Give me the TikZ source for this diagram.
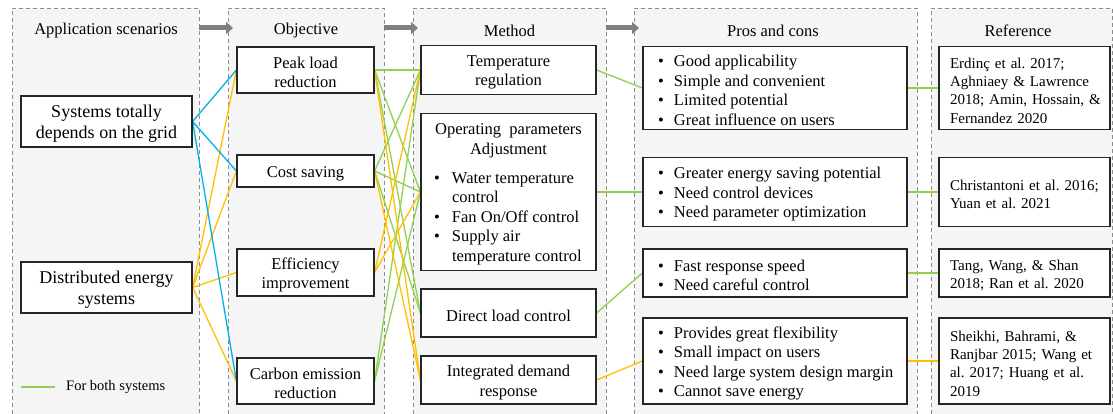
\documentclass[tikz,border=0pt]{standalone}
\usepackage{fontspec}
\setmainfont{Liberation Serif}
\usetikzlibrary{arrows.meta}

\definecolor{panelfill}{RGB}{245,245,245}
\definecolor{paneledge}{RGB}{140,140,140}
\definecolor{arrowgray}{RGB}{128,128,128}
\definecolor{lnblue}{RGB}{0,176,240}
\definecolor{lnorange}{RGB}{255,192,0}
\definecolor{lngreen}{RGB}{146,208,80}
\definecolor{boxedge}{RGB}{38,38,38}

\pgfdeclarelayer{panels}
\pgfdeclarelayer{links}
\pgfsetlayers{panels,links,main}

\frenchspacing

% one bullet line: bullet in a fixed-width slot, then the text
\newcommand\bulline[2]{\noindent\makebox[#1][l]{\textbullet}\mbox{#2}\par}
% continuation line of a bullet
\newcommand\contline[2]{\noindent\hspace*{#1}\mbox{#2}\par}

\begin{document}
\begin{tikzpicture}[x=1pt,y=-1pt,
  paneledge/.style={draw=paneledge,line width=0.9pt,dash pattern=on 4pt off 3pt},
  flow/.style={draw=arrowgray,line width=5pt,-{Triangle[length=7pt,width=12pt]}},
  head/.style={font=\fontsize{16.5}{19.5}\selectfont,inner sep=0pt},
  frame/.style={draw=boxedge,fill=white,line width=1.2pt,inner sep=0pt},
  txt/.style={inner sep=0pt,align=center,font=\fontsize{16.5}{19.5}\selectfont},
  apptxt/.style={txt,font=\fontsize{18}{21}\selectfont},
  listtxt/.style={txt,align=none,execute at begin node={\parskip=0pt\parindent=0pt}},
  reftxt/.style={txt,align=left,text width=149pt,font=\fontsize{15}{18.3}\selectfont},
  gline/.style={draw=lngreen,line width=1.3pt},
  oline/.style={draw=lnorange,line width=1.3pt},
  bluline/.style={draw=lnblue,line width=1.3pt},
]
\useasboundingbox (0,0) rectangle (1113,414);

% ---- column panels ----
\begin{pgfonlayer}{panels}
\fill[panelfill] (12,8) rectangle (199,414);
\fill[panelfill] (228,8) rectangle (384,414);
\fill[panelfill] (413,8) rectangle (606,414);
\fill[panelfill] (634,8) rectangle (917,414);
\fill[panelfill] (931,8) rectangle (1113,414);
\draw[paneledge] (12,414) -- (12,8) -- (199,8) -- (199,414);
\draw[paneledge] (228,414) -- (228,8) -- (384,8) -- (384,414);
\draw[paneledge] (413,414) -- (413,8) -- (606,8) -- (606,414);
\draw[paneledge] (634,414) -- (634,8) -- (917,8) -- (917,414);
\draw[paneledge] (931,414) -- (931,8) -- (1112,8) -- (1112,414);
\end{pgfonlayer}

% ---- column headers and flow arrows ----
\node[head] (h1) at (106,30.5) {Application scenarios};
\node[head] (h2) at (306,30.5) {Objective};
\node[head] (h3) at (509.5,30.5) {Method};
\node[head] (h4) at (773,30.5) {Pros and cons};
\node[head] (h5) at (1018,30.5) {Reference};

\coordinate (a1s) at (199,28); \coordinate (a1e) at (233,28);
\coordinate (a2s) at (384,28); \coordinate (a2e) at (418,28);
\coordinate (a3s) at (606,28); \coordinate (a3e) at (639,28);
\draw[flow] (a1s) -- (a1e);
\draw[flow] (a2s) -- (a2e);
\draw[flow] (a3s) -- (a3e);

% ---- application scenarios ----
\node[frame,minimum width=171pt,minimum height=51pt] (sys) at (106.5,121.5) {};
\node[apptxt] (sysT) at ([yshift=-2.5pt]sys.center) {Systems totally\\depends on the grid};
\node[frame,minimum width=171pt,minimum height=51pt] (dist) at (106.5,287.5) {};
\node[apptxt] (distT) at ([yshift=-2.5pt]dist.center) {Distributed energy\\systems};

% ---- objectives ----
\node[frame,minimum width=137pt,minimum height=46pt] (peak) at (305.5,70) {};
\node[txt] (peakT) at ([yshift=-2.5pt]peak.center) {Peak load\\reduction};
\node[frame,minimum width=137pt,minimum height=32pt] (cost) at (305.5,171) {};
\node[txt] (costT) at ([yshift=-2.5pt]cost.center) {Cost saving};
\node[frame,minimum width=137pt,minimum height=47pt] (eff) at (305.5,272.5) {};
\node[txt] (effT) at ([yshift=-2.5pt]eff.center) {Efficiency\\improvement};
\node[frame,minimum width=137pt,minimum height=46pt] (carb) at (305.5,381) {};
\node[txt] (carbT) at ([yshift=-2.5pt]carb.center) {Carbon emission\\reduction};

% ---- methods ----
\node[frame,minimum width=175pt,minimum height=49pt] (temp) at (508.5,70) {};
\node[txt] (tempT) at ([yshift=-2.5pt]temp.center) {Temperature\\regulation};
\node[frame,minimum width=175pt,minimum height=157pt] (op) at (508.5,192) {};
\node[listtxt,text width=149pt] (opT) at ([yshift=-2.5pt]op.center)
  {{\centering Operating\ \ parameters\\Adjustment\par}\vspace{9.5pt}%
   \bulline{18pt}{Water temperature}
   \contline{18pt}{control}
   \bulline{18pt}{Fan On/Off control}
   \bulline{18pt}{Supply air}
   \contline{18pt}{temperature control}};
\node[frame,minimum width=175pt,minimum height=48pt] (direct) at (508.5,313) {};
\node[txt] (directT) at ([yshift=-2.5pt]direct.center) {Direct load control};
\node[frame,minimum width=175pt,minimum height=48pt] (idr) at (508.5,380) {};
\node[txt] (idrT) at ([yshift=-2.5pt]idr.center) {Integrated demand\\response};

% ---- pros and cons ----
\node[frame,minimum width=264pt,minimum height=83pt] (p1) at (775,88) {};
\node[listtxt,text width=234pt] (p1T) at ([yshift=-2.5pt]p1.center)
  {\bulline{16pt}{Good applicability}
   \bulline{16pt}{Simple and convenient}
   \bulline{16pt}{Limited potential}
   \bulline{16pt}{Great influence on users}};
\node[frame,minimum width=264pt,minimum height=69pt] (p2) at (775,192) {};
\node[listtxt,text width=234pt] (p2T) at ([yshift=-2.5pt]p2.center)
  {\bulline{16pt}{Greater energy saving potential}
   \bulline{16pt}{Need control devices}
   \bulline{16pt}{Need parameter optimization}};
\node[frame,minimum width=264pt,minimum height=48pt] (p3) at (775,273) {};
\node[listtxt,text width=234pt] (p3T) at ([yshift=-2.5pt]p3.center)
  {\bulline{16pt}{Fast response speed}
   \bulline{16pt}{Need careful control}};
\node[frame,minimum width=264pt,minimum height=86pt] (p4) at (775,361) {};
\node[listtxt,text width=234pt] (p4T) at ([yshift=-2.5pt]p4.center)
  {\bulline{16pt}{Provides great flexibility}
   \bulline{16pt}{Small impact on users}
   \bulline{16pt}{Need large system design margin}
   \bulline{16pt}{Cannot save energy}};

% ---- references ----
\node[frame,minimum width=171pt,minimum height=83pt] (r1) at (1024.5,88) {};
\node[reftxt] (r1T) at ([yshift=-2.5pt]r1.center)
  {\mbox{Erdinç et al. 2017;}\\\mbox{Aghniaey \& Lawrence}\\\mbox{2018; Amin, Hossain, \&}\\\mbox{Fernandez 2020}};
\node[frame,minimum width=171pt,minimum height=69pt] (r2) at (1024.5,192) {};
\node[reftxt] (r2T) at ([yshift=-2.5pt]r2.center)
  {\mbox{Christantoni et al. 2016;}\\\mbox{Yuan et al. 2021}};
\node[frame,minimum width=171pt,minimum height=48pt] (r3) at (1024.5,273) {};
\node[reftxt] (r3T) at ([yshift=-2.5pt]r3.center)
  {\mbox{Tang, Wang, \& Shan}\\\mbox{2018; Ran et al. 2020}};
\node[frame,minimum width=171pt,minimum height=86pt] (r4) at (1024.5,361) {};
\node[reftxt] (r4T) at ([yshift=-2.5pt]r4.center)
  {\mbox{Sheikhi, Bahrami, \&}\\\mbox{Ranjbar 2015; Wang et}\\\mbox{al. 2017; Huang et al.}\\\mbox{2019}};

% ---- links, kept behind the boxes ----
\begin{pgfonlayer}{links}
% objectives to methods: for both systems
\draw[gline] (peak.east) -- (temp.west);
\draw[gline] (peak.east) -- (op.west);
\draw[gline] (peak.east) -- (direct.west);
\draw[gline] (cost.east) -- (temp.west);
\draw[gline] (cost.east) -- (op.west);
\draw[gline] (cost.east) -- (direct.west);
\draw[gline] (carb.east) -- (temp.west);
\draw[gline] (carb.east) -- (op.west);
% objectives to methods: distributed energy systems
\draw[oline] (peak.east) -- (idr.west);
\draw[oline] (cost.east) -- (idr.west);
\draw[oline] (eff.east) -- (temp.west);
\draw[oline] (eff.east) -- (op.west);
% scenarios to objectives
\draw[oline] (dist.east) -- (peak.west);
\draw[oline] (dist.east) -- (cost.west);
\draw[oline] (dist.east) -- (eff.west);
\draw[oline] (dist.east) -- (carb.west);
\draw[bluline] (sys.east) -- (peak.west);
\draw[bluline] (sys.east) -- (cost.west);
\draw[bluline] (sys.east) -- (carb.west);
% methods to pros and cons, then to references
\draw[gline] (temp.east) -- (p1.west);
\draw[gline] (op.east) -- (p2.west);
\draw[gline] (direct.east) -- (p3.west);
\draw[oline] (idr.east) -- (p4.west);
\draw[gline] (p1.east) -- (r1.west);
\draw[gline] (p2.east) -- (r2.west);
\draw[gline] (p3.east) -- (r3.west);
\draw[oline] (p4.east) -- (r4.west);
\end{pgfonlayer}

% ---- legend ----
\coordinate (lgA) at (21,387);
\coordinate (lgB) at (55,387);
\draw[draw=lngreen,line width=2pt] (lgA) -- (lgB);
\node[anchor=west,inner sep=0pt,font=\fontsize{14.5}{17}\selectfont] (lgtext) at (66,387) {For both systems};
\end{tikzpicture}
\end{document}
